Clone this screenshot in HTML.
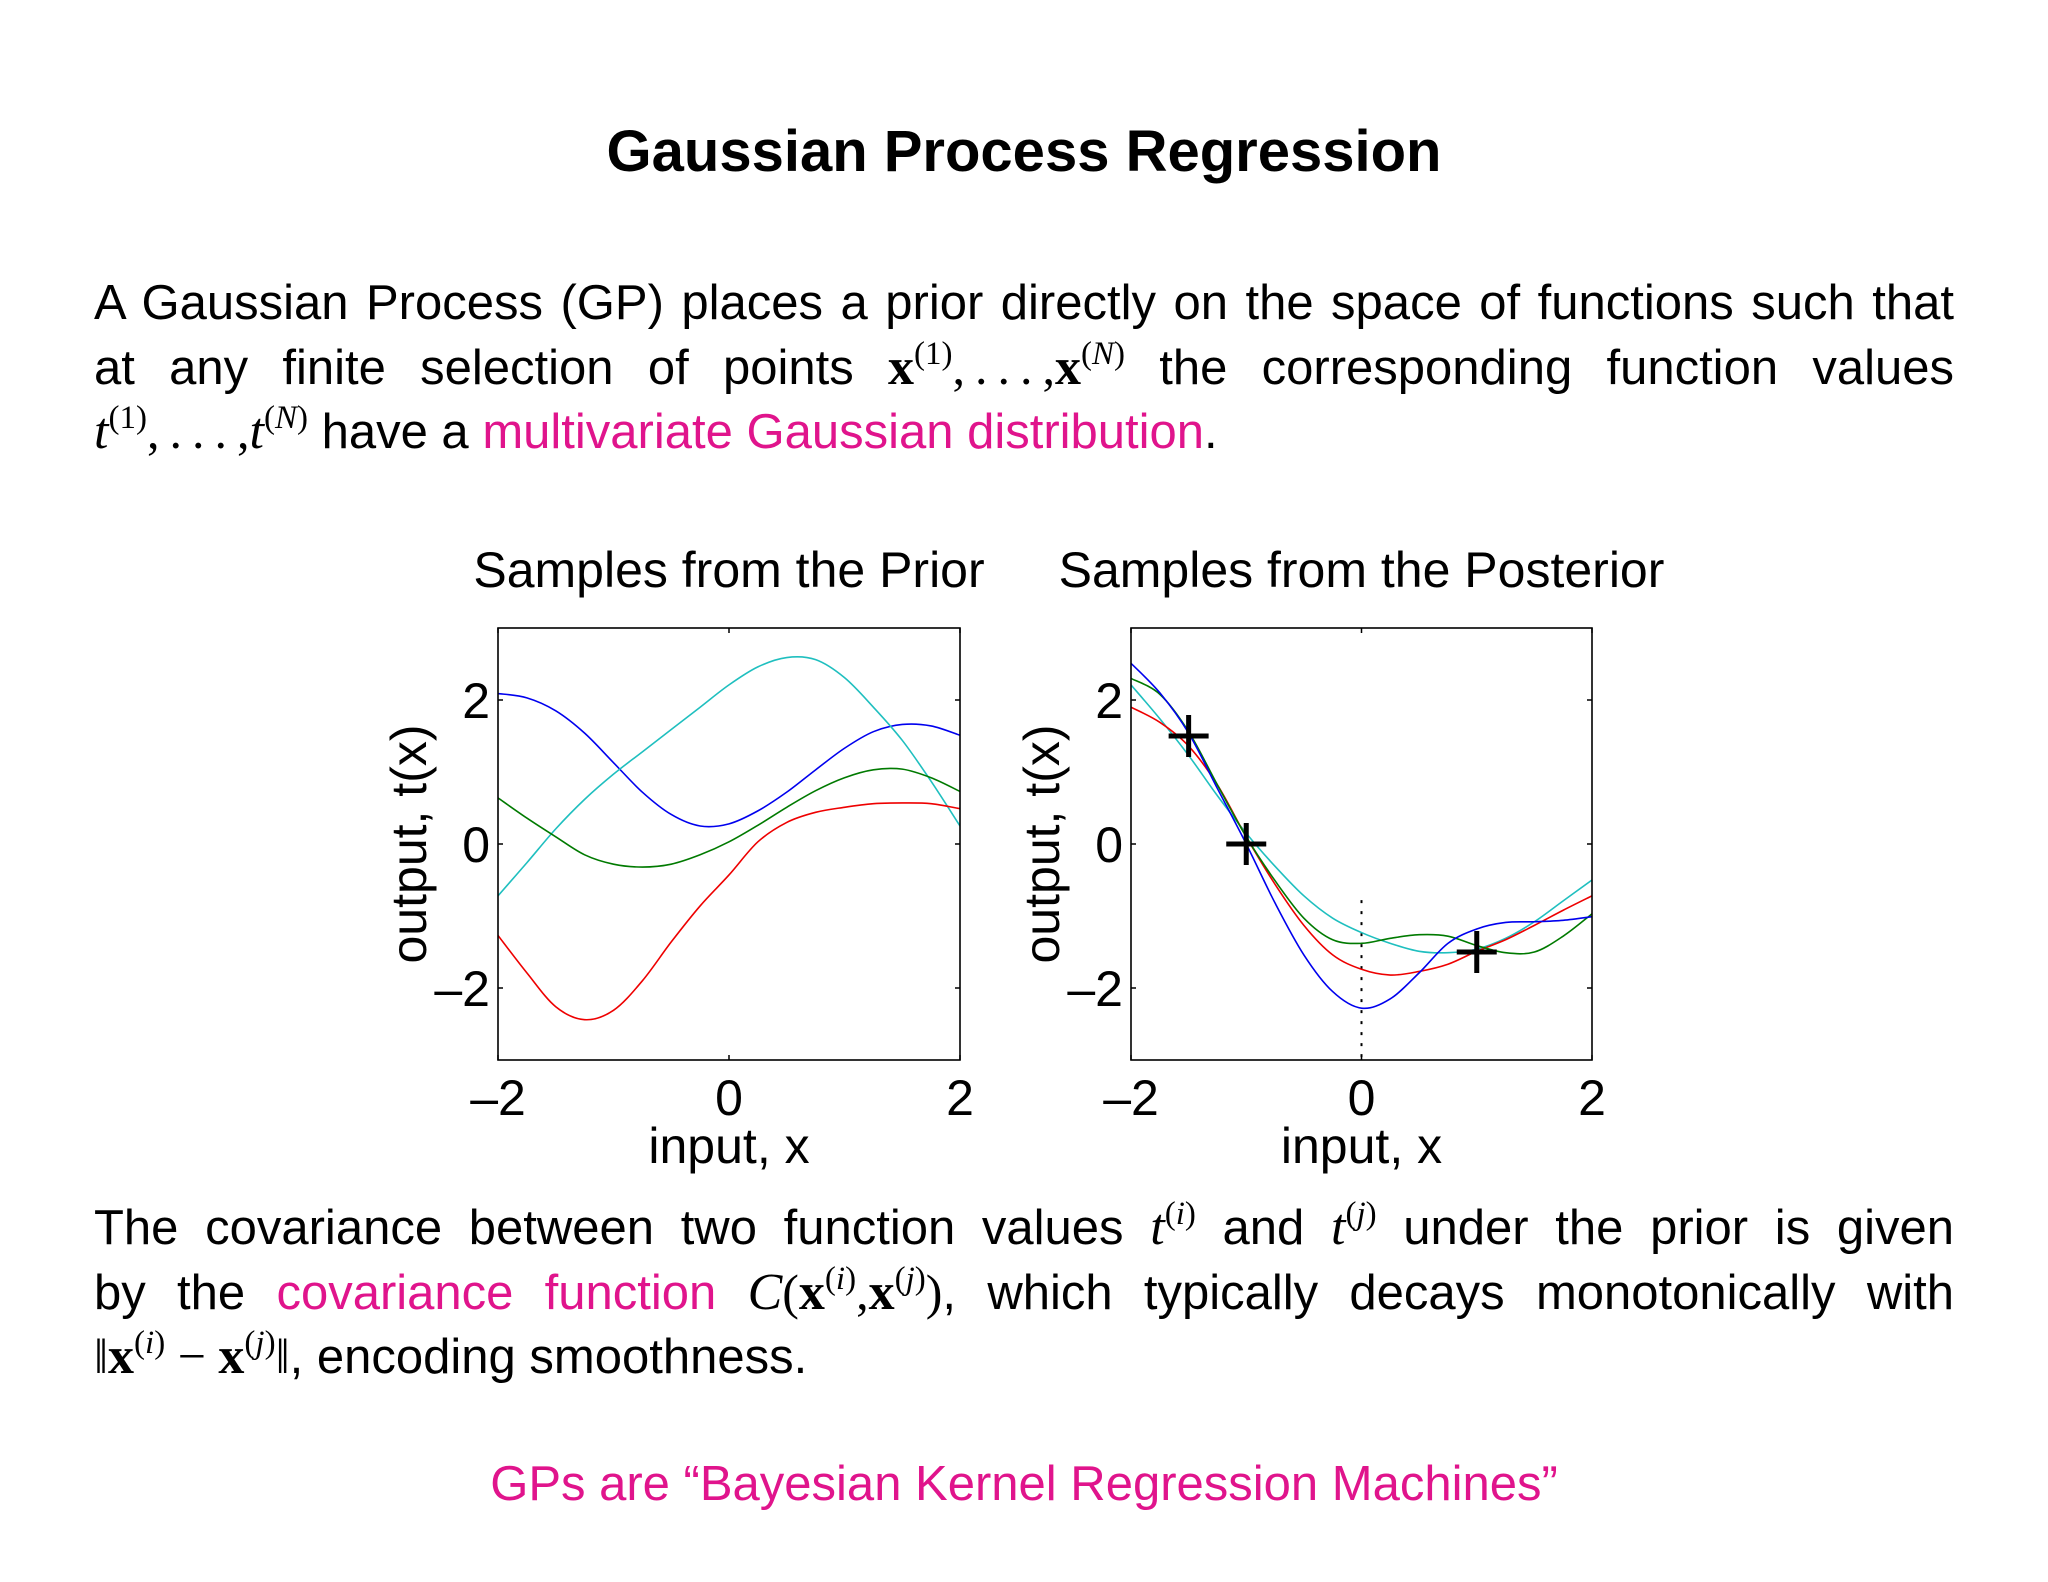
<!DOCTYPE html>
<html><head><meta charset="utf-8">
<style>
html,body{margin:0;padding:0;background:#fff;}
body{width:2048px;height:1582px;position:relative;overflow:hidden;font-family:"Liberation Sans",sans-serif;color:#000;}
.title{position:absolute;left:0;width:2048px;top:118px;text-align:center;font-size:58px;font-weight:bold;}
.line{position:absolute;left:94px;width:1860px;font-size:49px;text-align:justify;text-align-last:justify;white-space:nowrap;line-height:64px;}
.line.last{text-align-last:left;}
.m{font-family:"Liberation Serif",serif;font-size:50px;}
.mi{font-family:"Liberation Serif",serif;font-style:italic;font-size:52px;}
.mb{font-family:"Liberation Serif",serif;font-weight:bold;font-size:52px;}
sup{font-family:"Liberation Serif",serif;font-size:33px;vertical-align:20px;line-height:0;}
.ib{display:inline-block;}
.mag{color:#e0148c;}
svg{position:absolute;left:0;top:0;}
</style></head><body>
<div class="title">Gaussian Process Regression</div>
<div class="line" style="top:271px">A Gaussian Process (GP) places a prior directly on the space of functions such that</div>
<div class="line" style="top:335px">at any finite selection of points <span class="ib"><span class="mb">x</span><sup>(1)</sup><span class="m">,&thinsp;.&thinsp;.&thinsp;.&thinsp;,</span><span class="mb">x</span><sup>(<i>N</i>)</sup></span> the corresponding function values</div>
<div class="line last" style="top:399px"><span class="ib"><span class="mi">t</span><sup>(1)</sup><span class="m">,&thinsp;.&thinsp;.&thinsp;.&thinsp;,</span><span class="mi">t</span><sup>(<i>N</i>)</sup></span> have a <span class="mag">multivariate Gaussian distribution</span>.</div>

<div class="line" style="top:1196px">The covariance between two function values <span class="mi">t</span><sup>(<i>i</i>)</sup> and <span class="mi">t</span><sup>(<i>j</i>)</sup> under the prior is given</div>
<div class="line" style="top:1260px">by the <span class="mag">covariance function</span> <span class="ib"><span class="mi">C</span><span class="m">(</span><span class="mb">x</span><sup>(<i>i</i>)</sup><span class="m">,</span><span class="mb">x</span><sup>(<i>j</i>)</sup><span class="m">)</span>,</span> which typically decays monotonically with</div>
<div class="line last" style="top:1324px"><span class="ib"><span class="m">‖</span><span class="mb">x</span><sup>(<i>i</i>)</sup><span class="m"> − </span><span class="mb">x</span><sup>(<i>j</i>)</sup><span class="m">‖</span>,</span> encoding smoothness.</div>

<div style="position:absolute;left:0;width:2048px;top:1452px;text-align:center;font-size:49px;line-height:64px;" class="mag">GPs are “Bayesian Kernel Regression Machines”</div>

<svg id="chart" width="2048" height="1582" xmlns="http://www.w3.org/2000/svg"></svg>
<script>
const xs = [-2,-1.75,-1.5,-1.25,-1,-0.75,-0.5,-0.25,0,0.25,0.5,0.75,1,1.25,1.5,1.75,2];
const priorBlue  = [2.09,2.03,1.85,1.54,1.13,0.72,0.41,0.25,0.28,0.46,0.72,1.03,1.33,1.56,1.66,1.64,1.51];
const priorCyan  = [-0.72,-0.26,0.21,0.62,0.97,1.28,1.59,1.9,2.21,2.46,2.59,2.56,2.31,1.9,1.44,0.87,0.25];
const priorGreen = [0.64,0.36,0.10,-0.15,-0.28,-0.32,-0.28,-0.15,0.03,0.26,0.51,0.74,0.92,1.03,1.04,0.92,0.73];
const priorRed   = [-1.27,-1.79,-2.26,-2.44,-2.31,-1.9,-1.36,-0.86,-0.43,0.03,0.30,0.44,0.51,0.56,0.57,0.56,0.49];
const postBlue   = [2.51,2.1,1.54,0.77,0,-0.82,-1.54,-2.05,-2.28,-2.15,-1.79,-1.38,-1.18,-1.09,-1.08,-1.06,-1.01];
const postGreen  = [2.3,2.08,1.56,0.82,0.10,-0.51,-1.03,-1.33,-1.38,-1.31,-1.26,-1.28,-1.41,-1.51,-1.5,-1.28,-0.97];
const postRed    = [1.9,1.69,1.36,0.82,0.10,-0.56,-1.13,-1.54,-1.74,-1.82,-1.77,-1.67,-1.49,-1.33,-1.13,-0.92,-0.72];
const postCyan   = [2.21,1.74,1.23,0.67,0.15,-0.31,-0.72,-1.03,-1.23,-1.38,-1.49,-1.51,-1.46,-1.31,-1.08,-0.79,-0.5];
const obsX = [-1.5,-1,1];
const obsY = [1.5,0,-1.5];
const xTicks = [-2,0,2];
const yTicks = [-2,0,2];
const xTickLabels = ["\u20132","0","2"];
const yTickLabels = ["\u20132","0","2"];

const NS="http://www.w3.org/2000/svg";
const svg=document.getElementById('chart');
function el(tag,attrs,parent){const e=document.createElementNS(NS,tag);for(const k in attrs)e.setAttribute(k,attrs[k]);(parent||svg).appendChild(e);return e;}
const FONT='Liberation Sans, sans-serif';
function panel(name,left,right,title,series,withObs){
  const top=628,bottom=1060;
  const sx=x=>left+(x+2)/4*(right-left);
  const sy=y=>bottom-(y+3)/6*(bottom-top);
  const g=el('g',{});
  
  
  const t=el('text',{x:(left+right)/2,y:587,'text-anchor':'middle','font-size':50,'font-family':FONT},g);
  t.textContent=title;
  
  
  const clipId='clip-'+name;
  const cp=el('clipPath',{id:clipId},g);
  el('rect',{x:left,y:top,width:right-left,height:bottom-top},cp);
  if(withObs){
    const d=el('line',{x1:sx(0),x2:sx(0),y1:sy(-0.78),y2:bottom,stroke:'#000','stroke-width':2,'stroke-dasharray':'3,8'},g);
    
    
  }
  series.forEach(s=>{
    const pts=xs.map((x,i)=>[sx(x),sy(s.v[i])]);
    let d='M'+pts[0][0]+','+pts[0][1];
    for(let i=0;i<pts.length-1;i++){
      const p0=pts[Math.max(i-1,0)],p1=pts[i],p2=pts[i+1],p3=pts[Math.min(i+2,pts.length-1)];
      const c1=[p1[0]+(p2[0]-p0[0])/6,p1[1]+(p2[1]-p0[1])/6];
      const c2=[p2[0]-(p3[0]-p1[0])/6,p2[1]-(p3[1]-p1[1])/6];
      d+=' C'+c1[0]+','+c1[1]+' '+c2[0]+','+c2[1]+' '+p2[0]+','+p2[1];
    }
    const p=el('path',{d:d,fill:'none',stroke:s.c,'stroke-width':1.6,'clip-path':'url(#'+clipId+')'},g);
    
    
  });
  if(withObs){
    obsX.forEach((x,i)=>{
      const cx=sx(x),cy=sy(obsY[i]);
      const c=el('path',{d:`M${cx-20},${cy}H${cx+20}M${cx},${cy-21}V${cy+21}`,stroke:'#000','stroke-width':5,fill:'none'},g);
      
      
    });
  }
  const fr=el('rect',{x:left,y:top,width:right-left,height:bottom-top,fill:'none',stroke:'#000','stroke-width':1.6},g);
  
  
  xTicks.forEach((v,i)=>{
    el('line',{x1:sx(v),x2:sx(v),y1:bottom,y2:bottom-5,stroke:'#000','stroke-width':1.5},g);
    el('line',{x1:sx(v),x2:sx(v),y1:top,y2:top+5,stroke:'#000','stroke-width':1.5},g);
    const tl=el('text',{x:sx(v),y:1115,'text-anchor':'middle','font-size':50,'font-family':FONT},g);
    tl.textContent=xTickLabels[i];
    
    
  });
  yTicks.forEach((v,i)=>{
    el('line',{x1:left,x2:left+5,y1:sy(v),y2:sy(v),stroke:'#000','stroke-width':1.5},g);
    el('line',{x1:right,x2:right-5,y1:sy(v),y2:sy(v),stroke:'#000','stroke-width':1.5},g);
    const tl=el('text',{x:left-8,y:sy(v)+18,'text-anchor':'end','font-size':50,'font-family':FONT},g);
    tl.textContent=yTickLabels[i];
    
    
  });
  const xl=el('text',{x:(left+right)/2,y:1163,'text-anchor':'middle','font-size':50,'font-family':FONT},g);
  xl.textContent='input, x';
  
  
  const yx=left-72, yy=(top+bottom)/2;
  const yl=el('text',{x:yx,y:yy,'text-anchor':'middle','font-size':50,'font-family':FONT,transform:`rotate(-90 ${yx} ${yy})`},g);
  yl.textContent='output, t(x)';
  
  
}
panel('prior-plot',498,960,'Samples from the Prior',[
  {n:'prior-sample-blue',c:'#0000ee',v:priorBlue},
  {n:'prior-sample-cyan',c:'#1fbfbf',v:priorCyan},
  {n:'prior-sample-green',c:'#007a00',v:priorGreen},
  {n:'prior-sample-red',c:'#ee0000',v:priorRed}],false);
panel('posterior-plot',1131,1592,'Samples from the Posterior',[
  {n:'posterior-sample-cyan',c:'#1fbfbf',v:postCyan},
  {n:'posterior-sample-red',c:'#ee0000',v:postRed},
  {n:'posterior-sample-green',c:'#007a00',v:postGreen},
  {n:'posterior-sample-blue',c:'#0000ee',v:postBlue}],true);
</script>
</body></html>
